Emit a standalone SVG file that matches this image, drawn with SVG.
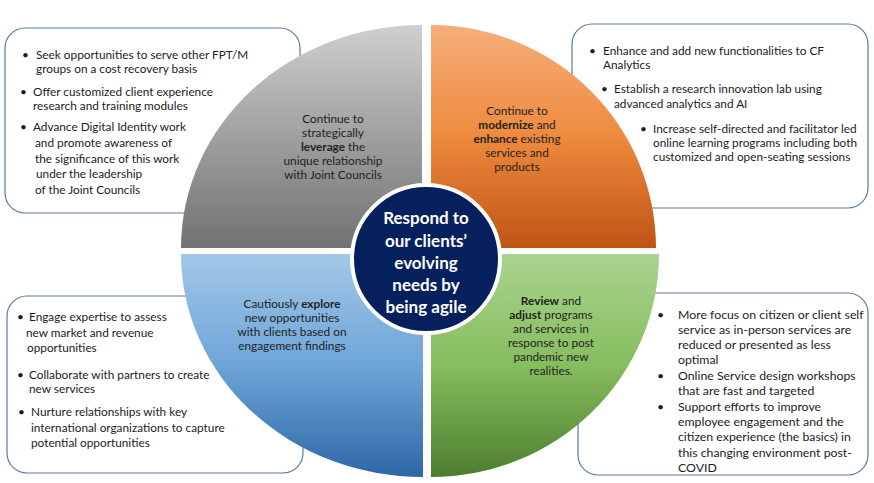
<svg xmlns="http://www.w3.org/2000/svg" width="874" height="483" viewBox="0 0 874 483">
<style>
.box{fill:#fff;stroke:#5a7ba0;stroke-width:1.2}
.t{font-family:Lato,"Liberation Sans",sans-serif;font-size:11.8px;fill:#1c1c1c}
.q{font-family:Lato,"Liberation Sans",sans-serif;font-size:11.8px;fill:#222;text-anchor:middle}
.c{font-family:Lato,"Liberation Sans",sans-serif;font-size:17px;font-weight:bold;fill:#fff;text-anchor:middle}
.b{font-weight:bold}
</style>
<defs>
<linearGradient id="gGray" x1="0" y1="0" x2="0" y2="1"><stop offset="0" stop-color="#cfcfcf"/><stop offset="1" stop-color="#717171"/></linearGradient>
<linearGradient id="gOrange" x1="0" y1="0" x2="0" y2="1"><stop offset="0" stop-color="#f5ae7c"/><stop offset="0.5" stop-color="#ee8a3e"/><stop offset="1" stop-color="#bf5414"/></linearGradient>
<linearGradient id="gBlue" x1="0" y1="0" x2="0" y2="1"><stop offset="0" stop-color="#a2c7e8"/><stop offset="0.5" stop-color="#6ea5d8"/><stop offset="1" stop-color="#2d67a6"/></linearGradient>
<linearGradient id="gGreen" x1="0" y1="0" x2="0" y2="1"><stop offset="0" stop-color="#aad48f"/><stop offset="0.5" stop-color="#86bd5e"/><stop offset="1" stop-color="#4d7e2e"/></linearGradient>
</defs>
<rect width="874" height="483" fill="#fff"/>

<g id="box-tl">
<rect class="box" x="5" y="28" width="295" height="185" rx="20"/>
<text class="t" x="22" y="59">•</text>
<text class="t" x="36" y="59">Seek opportunities to serve other FPT/M</text>
<text class="t" x="36" y="73">groups on a cost recovery basis</text>
<text class="t" x="20" y="96">•</text>
<text class="t" x="33" y="96">Offer customized client experience</text>
<text class="t" x="33" y="110">research and training modules</text>
<text class="t" x="20" y="131">•</text>
<text class="t" x="33" y="131">Advance Digital Identity work</text>
<text class="t" x="35" y="147">and promote  awareness of</text>
<text class="t" x="35" y="163">the significance of this work</text>
<text class="t" x="36" y="178">under the leadership</text>
<text class="t" x="35" y="194">of the Joint Councils</text>
</g>

<g id="box-tr">
<rect class="box" x="572" y="24" width="296" height="184" rx="20"/>
<text class="t" x="589" y="55">•</text>
<text class="t" x="603" y="55">Enhance and add new functionalities to CF</text>
<text class="t" x="603" y="69">Analytics</text>
<text class="t" x="601" y="93">•</text>
<text class="t" x="614" y="93">Establish a research innovation lab using</text>
<text class="t" x="614" y="108">advanced analytics and AI</text>
<text class="t" x="640" y="133">•</text>
<text class="t" x="653" y="133">Increase self-directed and facilitator led</text>
<text class="t" x="653" y="147">online learning programs including both</text>
<text class="t" x="653" y="161">customized and open-seating sessions</text>
</g>

<g id="box-bl">
<rect class="box" x="7" y="296" width="296" height="177" rx="20"/>
<text class="t" x="17" y="321">•</text>
<text class="t" x="29" y="321">Engage expertise to assess</text>
<text class="t" x="26" y="337">new market and revenue</text>
<text class="t" x="27" y="352">opportunities</text>
<text class="t" x="17" y="379">•</text>
<text class="t" x="29" y="379">Collaborate with partners to create</text>
<text class="t" x="29" y="393">new services</text>
<text class="t" x="18" y="416">•</text>
<text class="t" x="31" y="416">Nurture relationships with key</text>
<text class="t" x="31" y="432">international organizations to capture</text>
<text class="t" x="31" y="447">potential opportunities</text>
</g>

<g id="box-br">
<rect class="box" x="578" y="293" width="290" height="182" rx="20"/>
<g class="t" style="font-size:12.3px">
<text x="657" y="319">•</text>
<text x="678" y="319">More focus on citizen or client self</text>
<text x="678" y="334">service as in-person services are</text>
<text x="678" y="349">reduced or presented as less</text>
<text x="678" y="364">optimal</text>
<text x="657" y="380">•</text>
<text x="678" y="380">Online Service design workshops</text>
<text x="678" y="395">that are fast and targeted</text>
<text x="657" y="411">•</text>
<text x="678" y="411">Support efforts to improve</text>
<text x="678" y="426">employee engagement and the</text>
<text x="678" y="441">citizen experience (the basics) in</text>
<text x="678" y="457">this changing environment post-</text>
<text x="678" y="472">COVID</text>
</g>
</g>

<g id="quad-tl">
<path d="M422,248 L181,248 A241,223 0 0 1 422,25 Z" fill="url(#gGray)"/>
<text class="q" x="333" y="123">Continue to</text>
<text class="q" x="333" y="137">strategically</text>
<text class="q" x="333" y="151"><tspan class="b">leverage</tspan> the</text>
<text class="q" x="333" y="165">unique relationship</text>
<text class="q" x="333" y="179">with Joint Councils</text>
</g>

<g id="quad-tr">
<path d="M431,248 L431,25 A225,223 0 0 1 656,248 Z" fill="url(#gOrange)"/>
<text class="q" x="517" y="115">Continue to</text>
<text class="q" x="517" y="129"><tspan class="b">modernize</tspan> and</text>
<text class="q" x="517" y="143"><tspan class="b">enhance</tspan> existing</text>
<text class="q" x="517" y="157">services and</text>
<text class="q" x="517" y="171">products</text>
</g>

<g id="quad-bl">
<path d="M423,254 L423,477 A242,223 0 0 1 181,254 Z" fill="url(#gBlue)"/>
<text class="q" x="292" y="308">Cautiously <tspan class="b">explore</tspan></text>
<text class="q" x="292" y="322">new opportunities</text>
<text class="q" x="292" y="336">with clients based on</text>
<text class="q" x="292" y="350">engagement findings</text>
</g>

<g id="quad-br">
<path d="M431,254 L659,254 A228,223 0 0 1 431,477 Z" fill="url(#gGreen)"/>
<text class="q" x="551" y="305"><tspan class="b">Review</tspan> and</text>
<text class="q" x="551" y="319"><tspan class="b">adjust</tspan> programs</text>
<text class="q" x="551" y="333">and services in</text>
<text class="q" x="551" y="347">response to post</text>
<text class="q" x="551" y="361">pandemic new</text>
<text class="q" x="551" y="375">realities.</text>
</g>

<g id="center">
<circle cx="426" cy="259" r="74" fill="#06205e" stroke="#fff" stroke-width="4"/>
<text class="c" x="426" y="224">Respond to</text>
<text class="c" x="426" y="247">our clients’</text>
<text class="c" x="426" y="269">evolving</text>
<text class="c" x="426" y="291">needs by</text>
<text class="c" x="426" y="313">being agile</text>
</g>

<g id="connectors"></g>
</svg>
